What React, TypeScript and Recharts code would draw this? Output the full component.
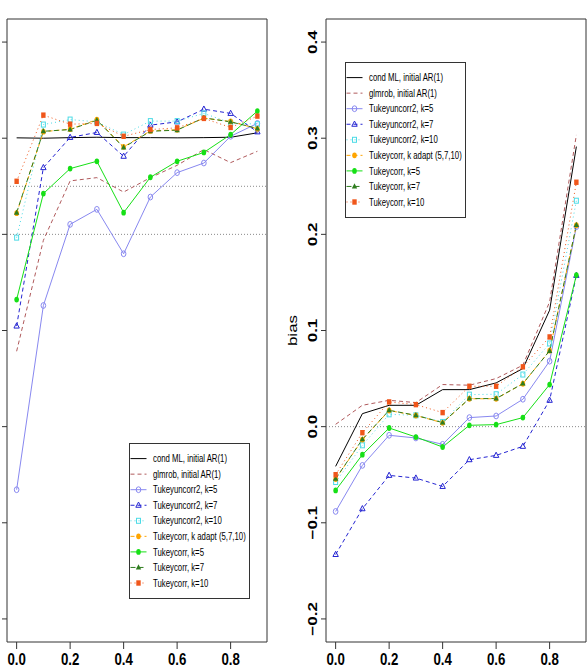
import { LineChart, Line, XAxis, YAxis, ReferenceLine, ReferenceArea, Legend } from 'recharts';

const ALPHA = [0, 0.1, 0.2, 0.3, 0.4, 0.5, 0.6, 0.7, 0.8, 0.9];
const X_TICKS = [0, 0.2, 0.4, 0.6, 0.8];

// left panel (tick labels are cut off in the original)
const L_Y_TICKS = [0.7, 0.75, 0.8, 0.85, 0.9, 0.95, 1.0];
const L_COND_ML = [0.9502, 0.95, 0.9503, 0.9505, 0.9503, 0.9503, 0.9502, 0.9503, 0.9505, 0.9528];
const L_GLMROB = [0.8392, 0.8969, 0.9278, 0.9295, 0.922, 0.9295, 0.9359, 0.9441, 0.9373, 0.9432];
const L_TU5 = [0.7672, 0.863, 0.9052, 0.913, 0.8899, 0.9194, 0.9321, 0.9371, 0.951, 0.9577];
const L_TU7 = [0.8523, 0.9347, 0.9504, 0.953, 0.9406, 0.9568, 0.9585, 0.9651, 0.9629, 0.9533];
const L_TU10 = [0.8983, 0.9571, 0.9597, 0.9585, 0.9519, 0.9589, 0.9589, 0.9629, 0.958, 0.9573];
const L_TC_ADAPT = [0.911, 0.9534, 0.9547, 0.9596, 0.9455, 0.9538, 0.9544, 0.9604, 0.9587, 0.9549];
const L_TC5 = [0.8661, 0.9212, 0.9342, 0.938, 0.9113, 0.9297, 0.938, 0.9426, 0.9519, 0.9641];
const L_TC7 = [0.9113, 0.9536, 0.9545, 0.9594, 0.9452, 0.9536, 0.9542, 0.9606, 0.9585, 0.9551];
const L_TC10 = [0.9276, 0.962, 0.9573, 0.9577, 0.951, 0.9545, 0.9554, 0.9603, 0.9556, 0.9615];
const L_REF = [0.925, 0.9];

// right panel: bias
const R_Y_TICKS = [-0.2, -0.1, 0, 0.1, 0.2, 0.3, 0.4];
const R_COND_ML = [-0.0413, 0.0135, 0.0222, 0.0222, 0.0385, 0.0385, 0.0455, 0.0604, 0.1211, 0.2913];
const R_GLMROB = [0.0024, 0.0222, 0.0274, 0.025, 0.0438, 0.0431, 0.05, 0.0639, 0.1298, 0.3034];
const R_TU5 = [-0.0882, -0.0403, -0.009, -0.0118, -0.0184, 0.0094, 0.0111, 0.0285, 0.0681, 0.208];
const R_TU7 = [-0.133, -0.0854, -0.0507, -0.0535, -0.0622, -0.0344, -0.0299, -0.0205, 0.0274, 0.1573];
const R_TU10 = [-0.0576, -0.0194, 0.0128, 0.0118, 0.0049, 0.0333, 0.0337, 0.0542, 0.0865, 0.235];
const R_TC_ADAPT = [-0.0545, -0.0135, 0.0168, 0.0116, 0.004, 0.029, 0.029, 0.0446, 0.079, 0.2095];
const R_TC5 = [-0.0663, -0.0292, -0.0014, -0.0108, -0.0212, 0.0014, 0.0021, 0.0094, 0.0438, 0.1576];
const R_TC7 = [-0.0542, -0.0132, 0.017, 0.0118, 0.0042, 0.0292, 0.0292, 0.0448, 0.0788, 0.2097];
const R_TC10 = [-0.05, -0.0063, 0.0257, 0.0229, 0.0146, 0.042, 0.042, 0.0622, 0.0933, 0.2542];
const R_REF = [0];

type Shape = 'circle' | 'triangle' | 'square' | 'dot' | 'filledTriangle' | 'filledSquare' | null;

const SERIES: { key: string; name: string; color: string; dash?: string; marker: Shape }[] = [
  { key: 'condML', name: 'cond ML, initial AR(1)', color: '#000000', marker: null },
  { key: 'glmrob', name: 'glmrob, initial AR(1)', color: '#b05a5c', dash: '4 3', marker: null },
  { key: 'tu5', name: 'Tukeyuncorr2, k=5', color: '#8888f0', marker: 'circle' },
  { key: 'tu7', name: 'Tukeyuncorr2, k=7', color: '#2424d2', dash: '4 3', marker: 'triangle' },
  { key: 'tu10', name: 'Tukeyuncorr2, k=10', color: '#4cdbe6', dash: '1 3', marker: 'square' },
  { key: 'tcA', name: 'Tukeycorr, k adapt (5,7,10)', color: '#ffa500', dash: '4 3', marker: 'dot' },
  { key: 'tc5', name: 'Tukeycorr, k=5', color: '#16e016', marker: 'dot' },
  { key: 'tc7', name: 'Tukeycorr, k=7', color: '#2f7d1f', dash: '5 3', marker: 'filledTriangle' },
  { key: 'tc10', name: 'Tukeycorr, k=10', color: '#f0561a', dash: '1 3', marker: 'filledSquare' },
];

const buildRows = (cols: Record<string, number[]>) =>
  ALPHA.map((x, i) => {
    const row: Record<string, number> = { x };
    Object.keys(cols).forEach((k) => (row[k] = cols[k][i]));
    return row;
  });

const leftRows = buildRows({
  condML: L_COND_ML, glmrob: L_GLMROB, tu5: L_TU5, tu7: L_TU7, tu10: L_TU10,
  tcA: L_TC_ADAPT, tc5: L_TC5, tc7: L_TC7, tc10: L_TC10,
});
const rightRows = buildRows({
  condML: R_COND_ML, glmrob: R_GLMROB, tu5: R_TU5, tu7: R_TU7, tu10: R_TU10,
  tcA: R_TC_ADAPT, tc5: R_TC5, tc7: R_TC7, tc10: R_TC10,
});

const FONT = '"Liberation Sans", Arial, sans-serif';
const SQUEEZE = 0.78;

function Marker({ shape, color, cx, cy }: { shape: Shape; color: string; cx: number; cy: number }) {
  const tri = `${cx},${cy - 3.2} ${cx + 2.7},${cy + 2} ${cx - 2.7},${cy + 2}`;
  switch (shape) {
    case 'circle':
      return <ellipse cx={cx} cy={cy} rx={2.3} ry={2.9} fill="none" stroke={color} />;
    case 'triangle':
      return <polygon points={tri} fill="none" stroke={color} />;
    case 'square':
      return <rect x={cx - 2} y={cy - 2.5} width={4} height={5} fill="none" stroke={color} />;
    case 'dot':
      return <ellipse cx={cx} cy={cy} rx={2.3} ry={2.9} fill={color} />;
    case 'filledTriangle':
      return <polygon points={tri} fill={color} />;
    case 'filledSquare':
      return <rect x={cx - 2.2} y={cy - 2.7} width={4.4} height={5.4} fill={color} />;
    default:
      return null;
  }
}

const XTick = ({ x, y, payload }: any) => (
  <text
    transform={`translate(${x},${y + 15.5}) scale(${SQUEEZE},1)`}
    textAnchor="middle"
    fontFamily={FONT}
    fontWeight="bold"
    fontSize={17}
    fill="#000"
  >
    {Number(payload.value).toFixed(1)}
  </text>
);

const YTick = ({ x, y, payload }: any) => (
  <text
    transform={`translate(${x},${y}) scale(${SQUEEZE},1) rotate(-90)`}
    textAnchor="middle"
    fontFamily={FONT}
    fontWeight="bold"
    fontSize={17}
    fill="#000"
  >
    {Number(payload.value).toFixed(1).replace('-', '\u2212')}
  </text>
);

const BiasLabel = (props: any) => {
  const vb = props.viewBox || { x: 0, y: 19, width: 46, height: 623 };
  return (
    <text
      transform={`translate(${vb.x + 17},${vb.y + vb.height / 2}) scale(${SQUEEZE},1) rotate(-90)`}
      textAnchor="middle"
      fontFamily={FONT}
      fontSize={17}
      fill="#000"
    >
      bias
    </text>
  );
};

function LegendBox() {
  return (
    <svg width={121} height={156} style={{ display: 'block' }}>
      <rect x={0.5} y={0.5} width={120} height={155} fill="#fff" stroke="#333" />
      {SERIES.map((s, i) => {
        const cy = 15.6 + i * 15.55;
        return (
          <g key={s.key}>
            <line x1={1.5} x2={17.5} y1={cy} y2={cy} stroke={s.color} strokeDasharray={s.dash} />
            {s.marker && <Marker shape={s.marker} color={s.color} cx={9.5} cy={cy} />}
            <text
              transform={`translate(24,${cy + 3.6}) scale(${SQUEEZE},1)`}
              fontFamily={FONT}
              fontSize={10}
              fill="#000"
            >
              {s.name}
            </text>
          </g>
        );
      })}
    </svg>
  );
}

function Panel({
  rows, width, domain, yTicks, refs, yWidth, marginRight, legendPos, showLabels,
}: {
  rows: Record<string, number>[];
  width: number;
  domain: [number, number];
  yTicks: number[];
  refs: number[];
  yWidth: number;
  marginRight: number;
  legendPos: { left: number; top: number };
  showLabels: boolean;
}) {
  return (
    <LineChart width={width} height={667} data={rows} margin={{ top: 19, right: marginRight, bottom: 0, left: 0 }}>
      <XAxis
        dataKey="x"
        type="number"
        domain={[-0.036, 0.936]}
        ticks={X_TICKS}
        axisLine={false}
        tickSize={7}
        tickMargin={0}
        height={25}
        stroke="#333"
        tick={XTick}
      />
      <YAxis
        type="number"
        domain={domain}
        ticks={yTicks}
        width={yWidth}
        axisLine={false}
        tickSize={5}
        tickMargin={4}
        stroke="#333"
        tick={showLabels ? YTick : () => <g />}
        label={showLabels ? { value: 'bias', content: BiasLabel } : undefined}
      />
      <ReferenceArea
        x1={-0.036}
        x2={0.936}
        y1={domain[0]}
        y2={domain[1]}
        fill="none"
        stroke="#333"
        strokeWidth={1}
        ifOverflow="visible"
      />
      {refs.map((r) => (
        <ReferenceLine key={r} y={r} stroke="#8a8a8a" strokeDasharray="1 2" />
      ))}
      {SERIES.map((s) => (
        <Line
          key={s.key}
          dataKey={s.key}
          name={s.name}
          stroke={s.color}
          strokeWidth={1}
          strokeDasharray={s.dash}
          isAnimationActive={false}
          activeDot={false}
          dot={
            s.marker
              ? (p: any) => (
                  <g key={`${s.key}-${p.index}`}>
                    <Marker shape={s.marker} color={s.color} cx={p.cx} cy={p.cy} />
                  </g>
                )
              : false
          }
        />
      ))}
      <Legend
        layout="horizontal"
        align="center"
        verticalAlign="middle"
        content={() => <LegendBox />}
        wrapperStyle={{ position: 'absolute', left: legendPos.left, top: legendPos.top, width: 121, height: 156, margin: 0 }}
      />
    </LineChart>
  );
}

export default function App() {
  return (
    <div style={{ position: 'absolute', left: 0, top: 0, width: 588, height: 667, background: '#fff', overflow: 'hidden' }}>
      <div style={{ position: 'absolute', left: 0, top: 0 }}>
        <Panel
          rows={leftRows}
          width={294}
          domain={[0.688, 1.012]}
          yTicks={L_Y_TICKS}
          refs={L_REF}
          yWidth={7}
          marginRight={27}
          legendPos={{ left: 129, top: 443 }}
          showLabels={false}
        />
      </div>
      <div style={{ position: 'absolute', left: 280, top: 0 }}>
        <Panel
          rows={rightRows}
          width={308}
          domain={[-0.224, 0.424]}
          yTicks={R_Y_TICKS}
          refs={R_REF}
          yWidth={46}
          marginRight={2}
          legendPos={{ left: 65, top: 62 }}
          showLabels
        />
      </div>
    </div>
  );
}
